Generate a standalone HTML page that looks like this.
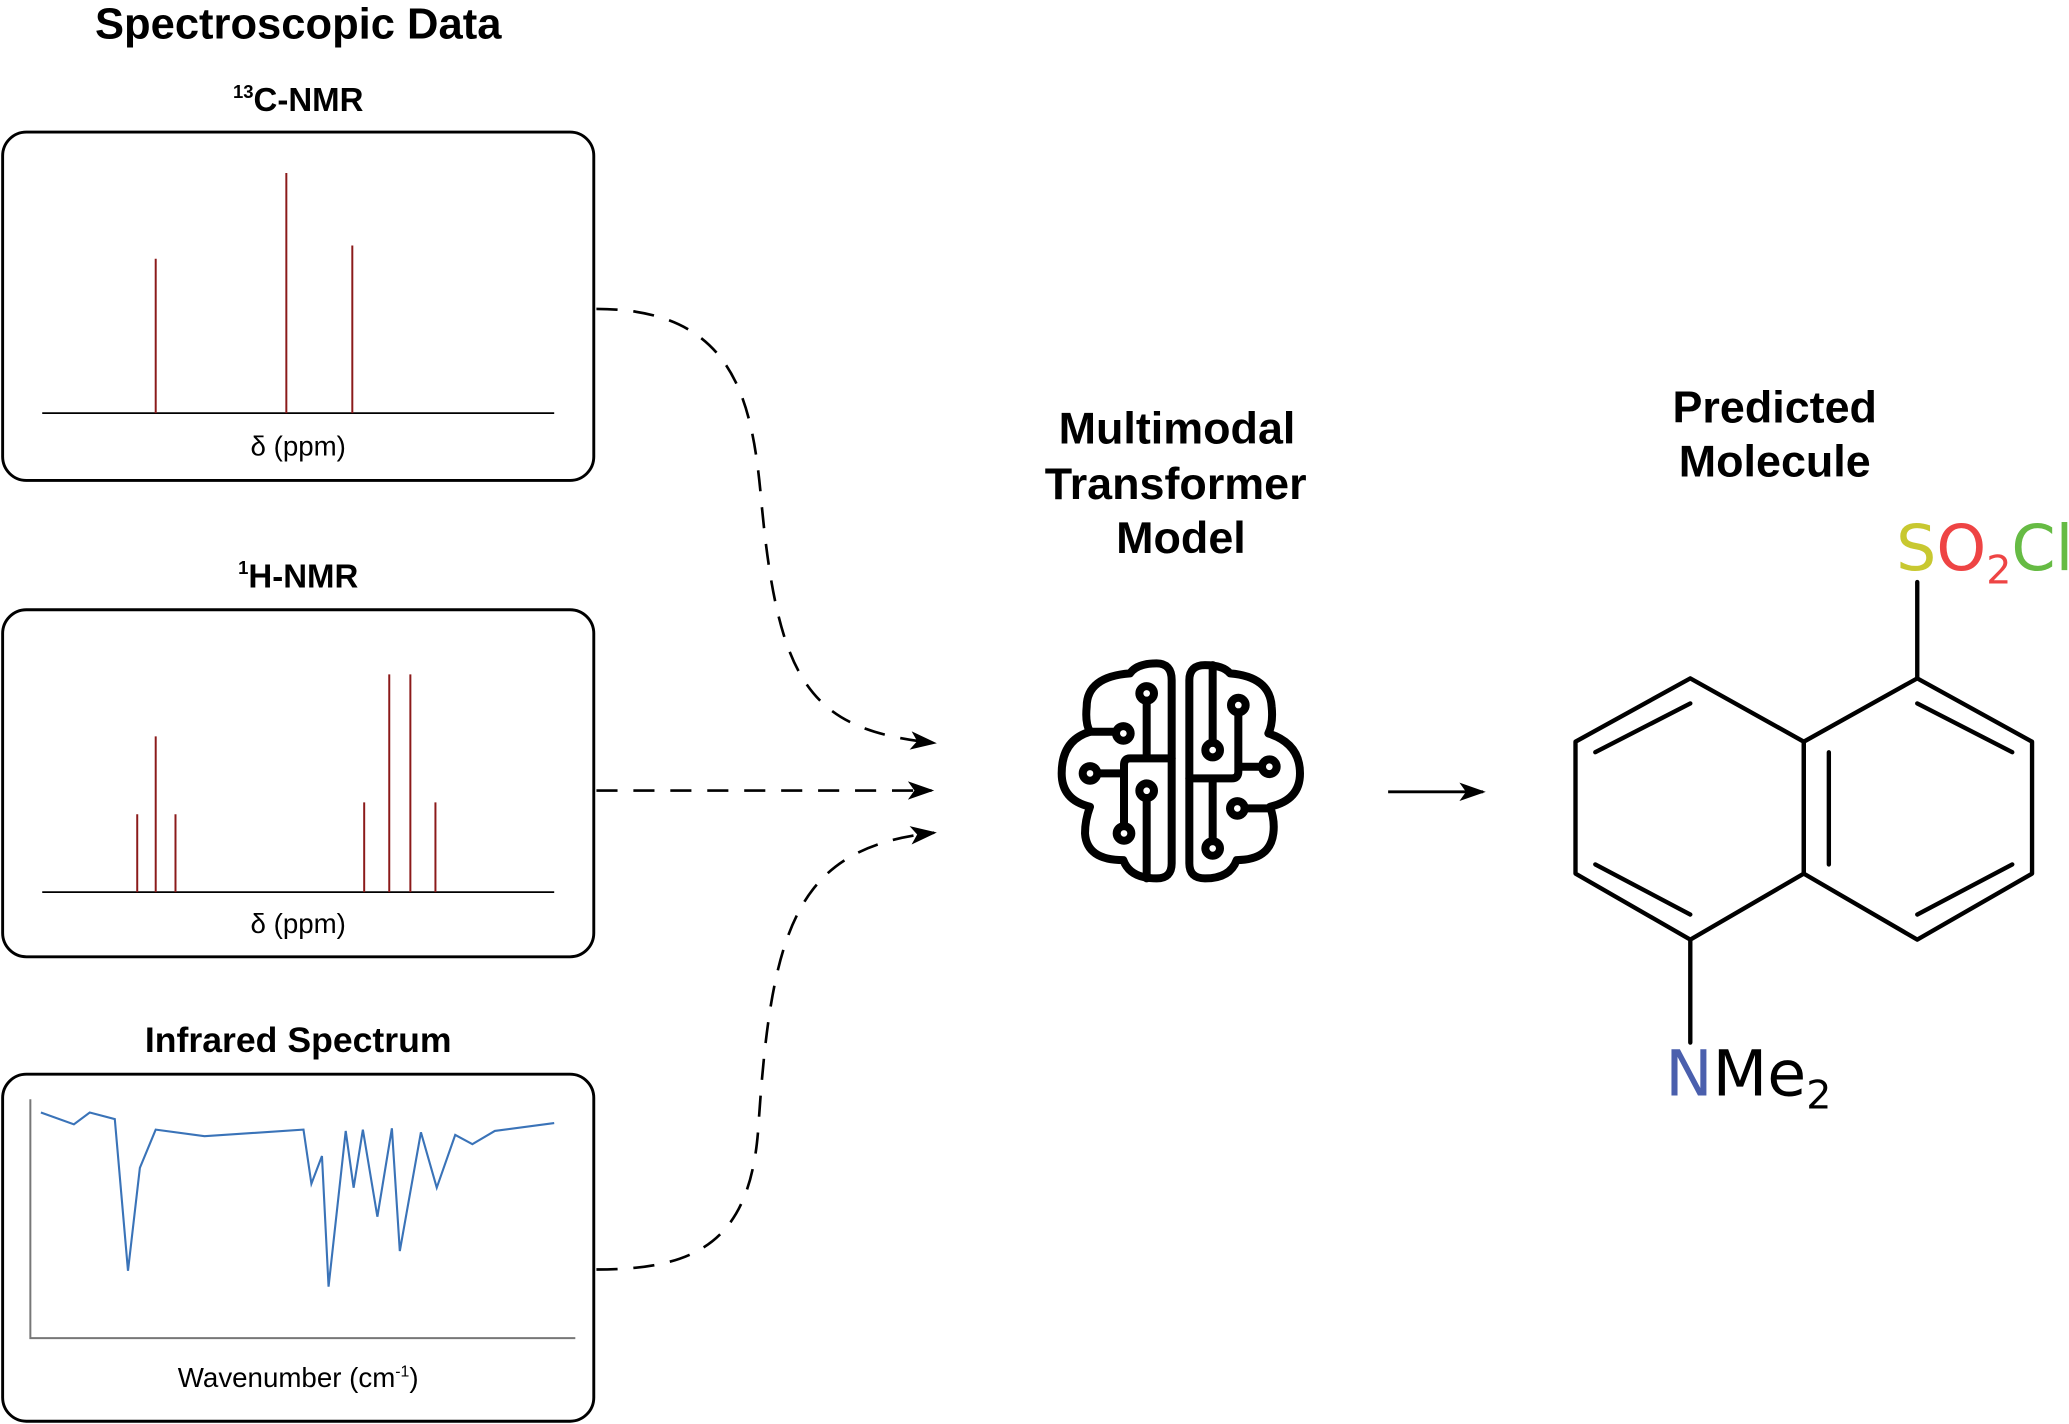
<!DOCTYPE html>
<html><head><meta charset="utf-8"><style>html,body{margin:0;padding:0;background:#fff}svg{display:block}</style></head>
<body>
<svg width="2069" height="1424" viewBox="0 0 1568 1079" xmlns="http://www.w3.org/2000/svg" font-family="Liberation Sans, sans-serif">
<defs><marker id="ah" markerWidth="22" markerHeight="16" refX="18" refY="7" orient="auto" markerUnits="userSpaceOnUse"><path d="M0,0 L20,7 L0,14 L5,7 Z" fill="#000"/></marker></defs>
<g font-weight="bold" text-anchor="middle" fill="#000">
<text x="226" y="29" font-size="33">Spectroscopic Data</text>
<text x="226" y="84" font-size="25"><tspan font-size="14" dy="-10">13</tspan><tspan dy="10">C-NMR</tspan></text>
<text x="226" y="445" font-size="25"><tspan font-size="14" dy="-10">1</tspan><tspan dy="10">H-NMR</tspan></text>
<text x="226" y="797" font-size="27">Infrared Spectrum</text>
<text x="892" y="336" font-size="34">Multimodal</text>
<text x="891" y="378" font-size="34">Transformer</text>
<text x="895" y="419" font-size="34">Model</text>
<text x="1345" y="320" font-size="34">Predicted</text>
<text x="1345" y="361" font-size="34">Molecule</text>
</g>
<g fill="none" stroke="#000" stroke-width="2.2">
<rect x="2" y="100" width="448" height="264" rx="18"/>
<rect x="2" y="462" width="448" height="263" rx="18"/>
<rect x="2" y="814" width="448" height="263" rx="18"/>
</g>
<g stroke="#000" stroke-width="1.3"><line x1="32" y1="313" x2="420" y2="313"/><line x1="32" y1="676" x2="420" y2="676"/></g>
<g stroke="#8b1a1a" stroke-width="1.5">
<line x1="118" y1="313" x2="118" y2="196"/><line x1="217" y1="313" x2="217" y2="131"/><line x1="267" y1="313" x2="267" y2="186"/>
<line x1="104" y1="676" x2="104" y2="617"/><line x1="118" y1="676" x2="118" y2="558"/><line x1="133" y1="676" x2="133" y2="617"/>
<line x1="276" y1="676" x2="276" y2="608"/><line x1="295" y1="676" x2="295" y2="511"/><line x1="311" y1="676" x2="311" y2="511"/><line x1="330" y1="676" x2="330" y2="608"/>
</g>
<g font-size="21" text-anchor="middle" fill="#000">
<text x="226" y="345">δ (ppm)</text><text x="226" y="707">δ (ppm)</text>
<text x="226" y="1051">Wavenumber (cm<tspan font-size="12" dy="-8">-1</tspan><tspan dy="8">)</tspan></text>
</g>
<path d="M23,833 V1014 H436" fill="none" stroke="#777" stroke-width="1.5"/>
<polyline fill="none" stroke="#3a73b8" stroke-width="1.6" points="31,843 56,852 68,843 87,848 97,963 106,885 118,856 155,861 230,856 236,897 244,876 249,975 262,857 268,900 275,856 286,922 297,855 303,948 319,858 331,900 345,860 358,867 375,857 420,851"/>
<g fill="none" stroke="#000" stroke-width="2" stroke-dasharray="16,12">
<path d="M452,234 C555,234 570,300 577,380 C 590,520 615,553 708,563" marker-end="url(#ah)"/>
<path d="M452,599 L706,599" marker-end="url(#ah)"/>
<path d="M452,962 C530,962 570,940 575,850 C 585,700 605,642 708,631" marker-end="url(#ah)"/>
</g>
<line x1="1052" y1="600" x2="1124" y2="600" stroke="#000" stroke-width="2.2" marker-end="url(#ah)"/>
<g transform="translate(780.6,485) scale(0.2526)" fill="none" stroke="#000" stroke-width="24" stroke-linejoin="round" stroke-linecap="round">
<path d="M425,120 Q425,70 380,70 Q320,70 300,100 Q170,110 170,200 Q165,250 180,275 Q95,300 95,400 Q95,480 180,500 Q165,540 165,580 Q170,660 280,660 Q300,715 380,715 Q425,715 425,670 Z"/>
<path d="M180,275 H258 M350,182 V355 H300 Q282,355 282,375 V558 M425,355 H350 M202,400 H282 M350,474 V715"/>
<circle cx="280" cy="280" r="22"/><circle cx="350" cy="160" r="22"/><circle cx="282" cy="580" r="22"/><circle cx="180" cy="400" r="22"/><circle cx="350" cy="452" r="22"/>
<path d="M478,120 Q478,75 525,75 Q580,75 600,100 Q720,110 725,200 Q730,250 715,280 Q810,310 810,400 Q810,480 720,500 Q735,540 730,580 Q720,660 620,660 Q600,715 525,715 Q478,715 478,670 Z"/>
<path d="M548,75 V308 M625,217 V395 Q625,415 605,415 H478 M625,380 H696 M548,415 V603 M644,505 H720"/>
<circle cx="548" cy="330" r="22"/><circle cx="625" cy="195" r="22"/><circle cx="718" cy="380" r="22"/><circle cx="548" cy="625" r="22"/><circle cx="622" cy="505" r="22"/>
</g>
<g fill="none" stroke="#000" stroke-width="3.3" stroke-linecap="round" stroke-linejoin="round">
<polygon points="1281,514 1367,562 1367,662 1281,712 1194,662 1194,562"/>
<polygon points="1453,514 1540,562 1540,662 1453,712 1367,662 1367,562"/>
<path d="M1453,514 V441 M1281,712 V790 M1209,570 L1281,533 M1209,655 L1281,693 M1386,570 V655 M1453,533 L1525,570 M1453,693 L1525,655"/>
</g>
<text x="1437" y="432" font-family="DejaVu Sans, sans-serif" font-size="48"><tspan fill="#c8c830">S</tspan><tspan fill="#ee4444">O</tspan><tspan fill="#ee4444" font-size="30" dy="10">2</tspan><tspan fill="#66bb44" dy="-10">Cl</tspan></text>
<text x="1262" y="830" font-family="DejaVu Sans, sans-serif" font-size="48"><tspan fill="#4a5fad">N</tspan><tspan fill="#000">Me</tspan><tspan fill="#000" font-size="30" dy="10">2</tspan></text>
</svg>
</body></html>
